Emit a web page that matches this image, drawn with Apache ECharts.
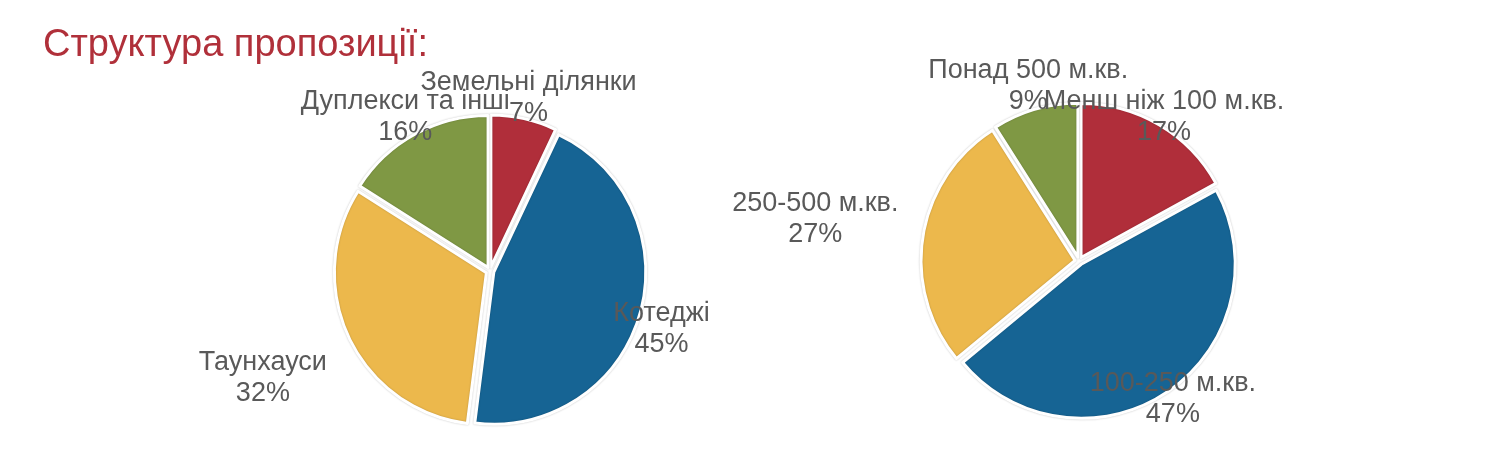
<!DOCTYPE html>
<html>
<head>
<meta charset="utf-8">
<script src="https://cdn.jsdelivr.net/npm/echarts@6/dist/echarts.min.js"></script>
<style>
html,body{margin:0;padding:0;background:#fff;}
#chart{width:1492px;height:462px;}
</style>
</head>
<body>
<div id="chart"></div>
<script>
// ---- data ----
const titleText = 'Структура пропозиції:';
const typeCategories = ['Земельні ділянки', 'Котеджі', 'Таунхауси', 'Дуплекси та інші'];
const typeValues = [7, 45, 32, 16];
const areaCategories = ['Менш ніж 100 м.кв.', '100-250 м.кв.', '250-500 м.кв.', 'Понад 500 м.кв.'];
const areaValues = [17, 47, 27, 9];

// ---- styling / layout ----
const colors = ['#B02E3A', '#166494', '#ECB84C', '#7F9844'];
const FONT = '"Liberation Sans", Arial, Helvetica, sans-serif';
const pies = [
  { center: [490, 271], radius: 152, labelDist: [174, 178, 248, 173], labelTurn: [0, 2.5, 0, 0] },
  { center: [1079, 261], radius: 154, labelDist: [164, 164, 264, 179], labelTurn: [0, 0, 0, 0] }
];
const OFFSET = 4;

function midAngles(values) {
  const total = values.reduce((a, b) => a + b, 0);
  let acc = 0;
  return values.map(v => {
    const m = (acc + v / 2) / total * 2 * Math.PI;
    acc += v;
    return m;
  });
}

const seriesData = [
  { names: typeCategories, values: typeValues },
  { names: areaCategories, values: areaValues }
];

const series = seriesData.map((sd, si) => {
  const p = pies[si];
  const angles = midAngles(sd.values);
  return {
    type: 'pie',
    center: p.center,
    radius: [0, p.radius],
    startAngle: 90,
    clockwise: true,
    selectedMode: 'multiple',
    selectedOffset: OFFSET,
    avoidLabelOverlap: false,
    animation: false,
    silent: true,
    itemStyle: {
      borderColor: '#ffffff',
      borderWidth: 3,
      shadowColor: 'rgba(0,0,0,0.22)',
      shadowBlur: 2
    },
    label: {
      show: true,
      position: 'inside',
      formatter: '{b}\n{c}%',
      color: '#595959',
      fontFamily: FONT,
      fontSize: 27,
      lineHeight: 31,
      align: 'center'
    },
    labelLine: { show: false },
    emphasis: { disabled: true },
    labelLayout: function (params) {
      const i = params.dataIndex;
      const th0 = angles[i];
      const th = th0 + p.labelTurn[i] * Math.PI / 180;
      const d = p.labelDist[i];
      const base = p.radius / 2 + OFFSET;
      return {
        dx: d * Math.sin(th) - base * Math.sin(th0),
        dy: -d * Math.cos(th) + base * Math.cos(th0)
      };
    },
    data: sd.names.map((n, i) => ({
      name: n,
      value: sd.values[i],
      selected: true,
      itemStyle: { color: colors[i] }
    }))
  };
});

const chart = echarts.init(document.getElementById('chart'), null, { renderer: 'canvas' });
chart.setOption({
  backgroundColor: '#ffffff',
  animation: false,
  title: {
    text: titleText,
    left: 38,
    top: 22,
    textStyle: { color: '#B0303A', fontFamily: FONT, fontSize: 38, fontWeight: 'normal' }
  },
  series: series
});
</script>
</body>
</html>
